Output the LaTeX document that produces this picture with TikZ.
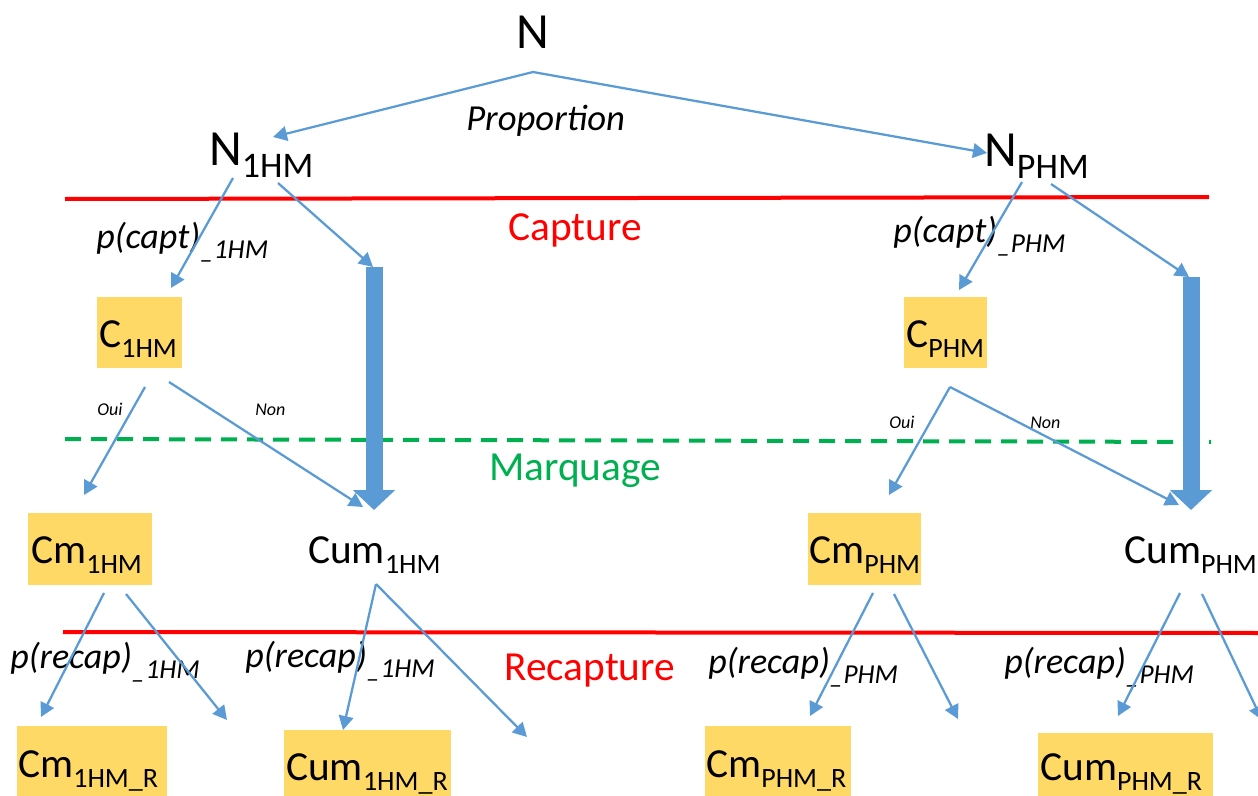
\documentclass[tikz,border=0pt]{standalone}
\usepackage{fontspec}
\setmainfont{Carlito}
\usetikzlibrary{arrows.meta}
\definecolor{arrblue}{HTML}{5B9BD5}
\definecolor{gold}{HTML}{FFD966}
\definecolor{mgreen}{HTML}{00B050}
\newcommand{\lowsub}[3]{\raisebox{-#2}{\fontsize{#1}{#1}\selectfont #3}}
\newcommand{\fbig}{\fontsize{38pt}{40pt}\selectfont}
\newcommand{\fmed}{\fontsize{31pt}{33pt}\selectfont}
\newcommand{\flab}{\fontsize{27pt}{29pt}\selectfont\itshape}
\newcommand{\fsmall}{\fontsize{13.5pt}{14pt}\selectfont\itshape}
\newcommand{\Bsub}[1]{\lowsub{27pt}{9.5pt}{#1}}
\newcommand{\Msub}[1]{\lowsub{21pt}{7.5pt}{#1}}
\newcommand{\Lsub}[1]{\lowsub{20.5pt}{7.5pt}{\itshape #1}}
\tikzset{
  txt/.style={inner sep=0pt, anchor=base west},
  arr/.style={draw=arrblue, line width=1.7pt, -{Triangle[length=10.5pt, width=11pt]}},
  fatarr/.style={draw=arrblue, line width=12.75pt, -{Triangle[length=15pt, width=31pt]}},
  ybox/.style={fill=gold, draw=none, inner sep=0pt, anchor=north west},
  redline/.style={draw=red, line width=3pt},
  greenline/.style={draw=mgreen, line width=3pt, dash pattern=on 12pt off 7.5pt}
}
\begin{document}
\begin{tikzpicture}[x=0.75pt, y=-0.75pt]
\useasboundingbox (0,0) rectangle (1258,796);

% separator lines
\draw[redline] (65,199) -- (1209,197);
\draw[greenline] (65,439) -- (1211,442);
\draw[redline] (63,632) -- (1260,633);

% boxes
\node[ybox, minimum width=63.75pt, minimum height=53.25pt] (C1box) at (97,297) {};
\node[ybox, minimum width=62.25pt, minimum height=53.25pt] (CPbox) at (904,297) {};
\node[ybox, minimum width=93pt, minimum height=54pt] (Cm1box) at (28,513) {};
\node[ybox, minimum width=84.75pt, minimum height=54pt] (CmPbox) at (808,513) {};
\node[ybox, minimum width=112.5pt, minimum height=60pt] (Cm1Rbox) at (17,726) {};
\node[ybox, minimum width=125.25pt, minimum height=57pt] (Cum1Rbox) at (284,730) {};
\node[ybox, minimum width=109.5pt, minimum height=60pt] (CmPRbox) at (705,726) {};
\node[ybox, minimum width=131.25pt, minimum height=55pt] (CumPRbox) at (1038,733) {};

% texts
\node[txt, anchor=base, font=\fbig] (N) at (533,48) {N};
\node[txt, font=\fbig] (N1) at (209,165) {N\Bsub{1HM}};
\node[txt, font=\fbig] (NP) at (984,166) {N\Bsub{PHM}};
\node[txt, font=\fontsize{27.5pt}{29pt}\selectfont\itshape] (prop) at (466,130) {Proportion};
\node[txt, font=\fmed, text=red] (capture) at (508,240) {Capture};
\node[txt, font=\fmed, text=mgreen] (marquage) at (489,480) {Marquage};
\node[txt, font=\fmed, text=red] (recapture) at (504,680) {Recapture};

\node[txt, font=\flab] (pc1) at (96,248) {p(capt)\Lsub{\_1HM}};
\node[txt, font=\flab] (pcP) at (893,242) {p(capt)\Lsub{\_PHM}};

\node[txt, font=\fmed] (C1) at (99,347) {C\Msub{1HM}};
\node[txt, font=\fmed] (CP) at (906,347) {C\Msub{PHM}};

\node[txt, font=\fsmall] (oui1) at (97,415) {Oui};
\node[txt, font=\fsmall] (non1) at (255,415) {Non};
\node[txt, font=\fsmall] (ouiP) at (889,428) {Oui};
\node[txt, font=\fsmall] (nonP) at (1030,428) {Non};

\node[txt, font=\fmed] (Cm1) at (31,563) {Cm\Msub{1HM}};
\node[txt, font=\fmed] (Cum1) at (308,563) {Cum\Msub{1HM}};
\node[txt, font=\fmed] (CmP) at (809,563) {Cm\Msub{PHM}};
\node[txt, font=\fmed] (CumP) at (1124,563) {Cum\Msub{PHM}};

\node[txt, font=\flab] (pr1a) at (10,668) {p(recap)\Lsub{\_1HM}};
\node[txt, font=\flab] (pr1b) at (245,667) {p(recap)\Lsub{\_1HM}};
\node[txt, font=\flab] (prPa) at (708,673) {p(recap)\Lsub{\_PHM}};
\node[txt, font=\flab] (prPb) at (1004,673) {p(recap)\Lsub{\_PHM}};

\node[txt, font=\fmed] (Cm1R) at (18,777) {Cm\Msub{1HM\_R}};
\node[txt, font=\fmed] (Cum1R) at (286,780) {Cum\Msub{1HM\_R}};
\node[txt, font=\fmed] (CmPR) at (706,777) {Cm\Msub{PHM\_R}};
\node[txt, font=\fmed] (CumPR) at (1040,780) {Cum\Msub{PHM\_R}};

% connector end points
\coordinate (Nout) at (533,72);
\coordinate (N1in) at (273,137);
\coordinate (NPin) at (987,153);
\coordinate (N1outL) at (233,178);
\coordinate (N1outR) at (278,183);
\coordinate (C1in) at (171,288);
\coordinate (bar1top) at (374,267);
\coordinate (bar1in) at (373,267);
\coordinate (Cum1in) at (374,510);
\coordinate (NPoutL) at (1022,182);
\coordinate (NPoutR) at (1051,184);
\coordinate (CPin) at (959,290);
\coordinate (barPtop) at (1191,277);
\coordinate (barPin) at (1189,277);
\coordinate (CumPin) at (1191,510);
\coordinate (C1outL) at (145,387);
\coordinate (C1outR) at (169,382);
\coordinate (Cm1in) at (84,495);
\coordinate (Cum1inN) at (363,507);
\coordinate (CPout) at (950,387);
\coordinate (CmPin) at (889,495);
\coordinate (CumPinN) at (1179,505);
\coordinate (Cm1outL) at (104,593);
\coordinate (Cm1outR) at (126,594);
\coordinate (Cm1Rin) at (41,717);
\coordinate (Cm1free) at (227,720);
\coordinate (Cum1out) at (376,584);
\coordinate (Cum1Rin) at (343,730);
\coordinate (Cum1free) at (527,737);
\coordinate (CmPoutL) at (873,593);
\coordinate (CmPoutR) at (894,594);
\coordinate (CmPRin) at (810,716);
\coordinate (CmPfree) at (958,719);
\coordinate (CumPoutL) at (1180,593);
\coordinate (CumPoutR) at (1202,594);
\coordinate (CumPRin) at (1118,716);
\coordinate (CumPfree) at (1262,720);

% connectors
\draw[arr] (Nout) -- (N1in);
\draw[arr] (Nout) -- (NPin);
\draw[arr] (N1outL) -- (C1in);
\draw[arr] (N1outR) -- (bar1in);
\draw[fatarr] (bar1top) -- (Cum1in);
\draw[arr] (NPoutL) -- (CPin);
\draw[arr] (NPoutR) -- (barPin);
\draw[fatarr] (barPtop) -- (CumPin);
\draw[arr] (C1outL) -- (Cm1in);
\draw[arr] (C1outR) -- (Cum1inN);
\draw[arr] (CPout) -- (CmPin);
\draw[arr] (CPout) -- (CumPinN);
\draw[arr] (Cm1outL) -- (Cm1Rin);
\draw[arr] (Cm1outR) -- (Cm1free);
\draw[arr] (Cum1out) -- (Cum1Rin);
\draw[arr] (Cum1out) -- (Cum1free);
\draw[arr] (CmPoutL) -- (CmPRin);
\draw[arr] (CmPoutR) -- (CmPfree);
\draw[arr] (CumPoutL) -- (CumPRin);
\draw[arr] (CumPoutR) -- (CumPfree);
\end{tikzpicture}
\end{document}
